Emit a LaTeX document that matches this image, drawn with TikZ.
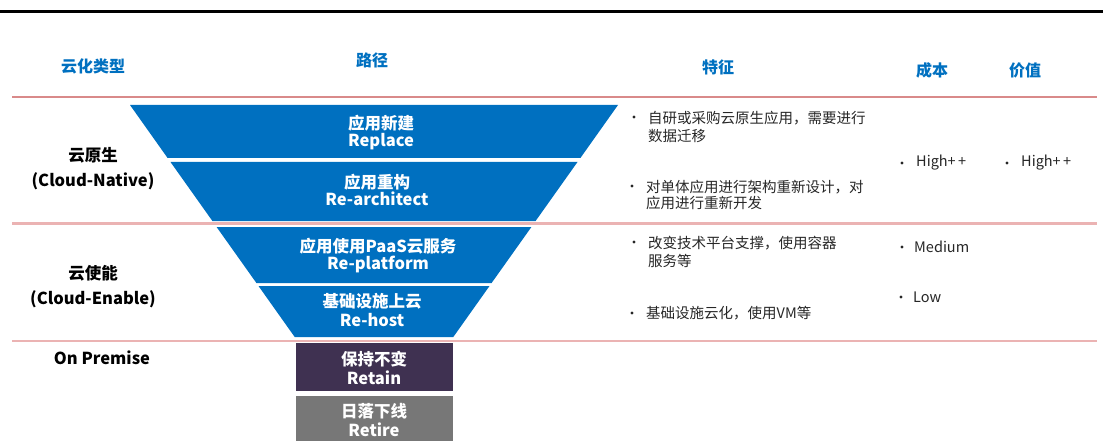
\documentclass[tikz,border=0pt]{standalone}
\usepackage{fontspec}
\setmainfont{Noto Sans CJK SC}
\definecolor{fblue}{HTML}{0070C0}
\definecolor{hblue}{HTML}{0070C0}
\definecolor{rpurple}{HTML}{3F3151}
\definecolor{rgray}{HTML}{777777}
\definecolor{pinkA}{HTML}{D98A8A}
\definecolor{pinkB}{HTML}{EBB3B3}
\definecolor{txt}{HTML}{262626}
\tikzset{
  hdr/.style={text=hblue,font=\fontsize{16}{18}\selectfont\bfseries,inner sep=0pt},
  lbl/.style={text=black,font=\fontsize{16.5}{18}\selectfont\bfseries,inner sep=0pt},
  intext/.style={text=white,font=\fontsize{16.5}{18}\selectfont\bfseries,inner sep=0pt},
  ftxt/.style={text=txt,font=\fontsize{14.5}{16}\selectfont,inner sep=0pt,anchor=west},
  dotb/.style={circle,fill=txt,draw=none,inner sep=0pt,minimum size=3.2pt},
  funnel/.style={fill=fblue,draw=none},
}
\begin{document}
\begin{tikzpicture}[x=1pt,y=-1pt]
\useasboundingbox (0,0) rectangle (1103,441);
\begin{scope}
\clip (0,0) rectangle (1103,441);
% top black rule
\draw[line width=3pt,black] (0,12) -- (1103,12);
% pink rules
\draw[line width=2pt,pinkA] (12,97.5) -- (1097,97.5);
\draw[line width=2.5pt,pinkB] (12,223.5) -- (1097,223.5);
\draw[line width=2.5pt,pinkB] (12,341) -- (1097,341);
% headers
\node[hdr] (h1) at (93,66) {云化类型};
\node[hdr] (h2) at (372,60) {路径};
\node[hdr] (h3) at (718,67) {特征};
\node[hdr] (h4) at (932,70) {成本};
\node[hdr] (h5) at (1025,70) {价值};
% funnel
\fill[funnel] (130,105) -- (618,105) -- (580.4,158) -- (167.6,158) -- cycle;
\fill[funnel] (170.5,162) -- (577.5,162) -- (535.6,221) -- (212.4,221) -- cycle;
\fill[funnel] (216.6,227) -- (531.4,227) -- (491.6,283) -- (256.4,283) -- cycle;
\fill[funnel] (258.5,286) -- (489.5,286) -- (453.3,337) -- (294.7,337) -- cycle;
\fill[rpurple] (296,343) rectangle (453,391);
\fill[rgray] (296,396) rectangle (453,445);
% funnel texts
\node[intext] (r1a) at (381,123) {应用新建};
\node[intext] (r1b) at (381,142) {Replace};
\node[intext] (r2a) at (377,182) {应用重构};
\node[intext] (r2b) at (377,199) {Re-architect};
\node[intext] (r3a) at (378,246) {应用使用PaaS云服务};
\node[intext] (r3b) at (378,264) {Re-platform};
\node[intext] (r4a) at (372,301) {基础设施上云};
\node[intext] (r4b) at (372,320) {Re-host};
\node[intext] (r5a) at (374,359) {保持不变};
\node[intext] (r5b) at (374,378) {Retain};
\node[intext] (r6a) at (374,411) {日落下线};
\node[intext] (r6b) at (374,430) {Retire};
% left labels
\node[lbl] (l1a) at (93,155) {云原生};
\node[lbl] (l1b) at (93,181) {(Cloud-Native)};
\node[lbl] (l2a) at (93,273) {云使能};
\node[lbl] (l2b) at (93,299) {(Cloud-Enable)};
\node[lbl] (l3) at (102,358) {On Premise};
% feature bullets
\node[dotb] (b1) at (634,117) {};
\node[ftxt] (f1a) at (648,118) {自研或采购云原生应用，需要进行};
\node[ftxt] (f1b) at (648,136) {数据迁移};
\node[dotb] (b2) at (632,186) {};
\node[ftxt] (f2a) at (646,187) {对单体应用进行架构重新设计，对};
\node[ftxt] (f2b) at (646,203) {应用进行重新开发};
\node[dotb] (b3) at (634,242) {};
\node[ftxt] (f3a) at (648,243) {改变技术平台支撑，使用容器};
\node[ftxt] (f3b) at (648,261) {服务等};
\node[dotb] (b4) at (632,313) {};
\node[ftxt] (f4a) at (646,313) {基础设施云化，使用VM等};
% cost / value
\node[dotb] (c1) at (902,163) {};
\node[ftxt] (c1t) at (916,163) {High+\,+};
\node[dotb] (v1) at (1007,163) {};
\node[ftxt] (v1t) at (1021,163) {High+\,+};
\node[dotb] (c2) at (902,247) {};
\node[ftxt] (c2t) at (914,247) {Medium};
\node[dotb] (c3) at (901,297) {};
\node[ftxt] (c3t) at (913,297) {Low};
\end{scope}
\end{tikzpicture}
\end{document}
